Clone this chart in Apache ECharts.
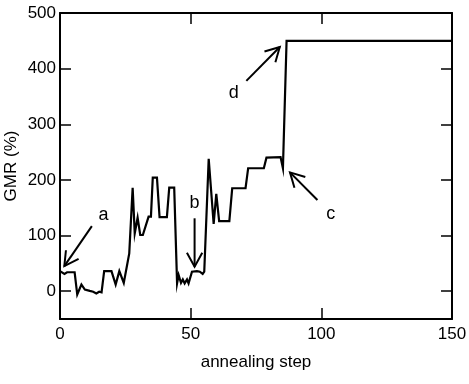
<!DOCTYPE html>
<html><head><meta charset="utf-8">
<script src="https://cdn.jsdelivr.net/npm/echarts@6/dist/echarts.min.js"></script>
<style>html,body{margin:0;padding:0;background:#fff}#c{width:469px;height:384px}</style>
</head><body><div id="c"></div>
<script>
// annealing step (x) and GMR (%) (y)
const steps = [0, 1.7, 2.7, 5.6, 6.6, 8.2, 9.5, 11.4, 12.7, 13.9, 15, 15.9, 16.9, 19.7, 21.3, 22.7, 24.4, 26.5, 27.8, 28.6, 29.7, 30.7, 31.7, 33.9, 34.8, 35.5, 37.1, 38.1, 40.9, 41.8, 43.7, 44.8, 45.4, 46.3, 47, 47.7, 48.6, 49.2, 50.5, 51.1, 52.4, 53.5, 54.6, 55.2, 56.9, 58.8, 59.8, 60.9, 64.8, 65.9, 71, 72, 78, 79, 84.4, 85.3, 86.7, 150];
const gmr = [36, 31, 34, 34, -6, 12, 3, 0.5, -1, -4, -1, -2, 36, 36, 12, 36, 15, 68, 186, 104, 132, 101, 101, 134, 134, 204, 204, 133, 133, 186, 186, 14, 29, 15, 21, 14, 21, 14, 35, 36, 36, 35, 31, 35, 238, 121, 175, 126, 126, 185, 185, 221, 221, 240, 241, 221, 450, 450];

const xTickValues = [0, 50, 100, 150];
const yTickValues = [0, 100, 200, 300, 400, 500];
const xTitle = 'annealing step';
const yTitle = 'GMR (%)';

// annotation labels
const annLetters = ['a', 'b', 'c', 'd'];
const annTextAt = [[16.6, 137], [51.5, 158], [103.6, 138.5], [66.5, 357]];
const annTail = [[12.2, 117], [51.5, 131], [98.5, 164], [71.3, 378]];
const annTip = [[1.65, 45], [51.5, 44], [88, 213.5], [84.1, 439]];

const FONT = "'Liberation Sans', Arial, Helvetica, sans-serif";
const chart = echarts.init(document.getElementById('c'), null, {renderer: 'canvas'});

function axisCommon(showLabel) {
  return {
    axisLine: {show: true, onZero: false, lineStyle: {color: '#000', width: 2}},
    axisTick: {show: true, inside: true, length: 11, lineStyle: {color: '#000', width: 1.5}},
    axisLabel: {show: showLabel, color: '#000', fontSize: 17, fontFamily: FONT},
    splitLine: {show: false}
  };
}

const xBase = axisCommon(true);
const yBase = axisCommon(true);

chart.setOption({
  animation: false,
  backgroundColor: '#fff',
  grid: {left: 60, right: 17, top: 13, bottom: 65, containLabel: false, outerBoundsMode: 'none'},
  xAxis: [
    Object.assign({}, xBase, {
      type: 'value', position: 'bottom', min: 0, max: 150, interval: 50,
      name: xTitle, nameLocation: 'middle', nameGap: 35, nameMoveOverlap: false,
      nameTextStyle: {color: '#000', fontSize: 17, fontFamily: FONT},
      axisLabel: Object.assign({}, xBase.axisLabel, {margin: 7})
    }),
    Object.assign({}, axisCommon(false), {
      type: 'value', position: 'top', min: 0, max: 150, interval: 50
    })
  ],
  yAxis: [
    Object.assign({}, yBase, {
      type: 'value', position: 'left', min: -50, max: 500,
      name: yTitle, nameLocation: 'middle', nameGap: 40, nameRotate: 90, nameMoveOverlap: false,
      nameTextStyle: {color: '#000', fontSize: 17, fontFamily: FONT},
      axisTick: Object.assign({}, yBase.axisTick, {customValues: yTickValues}),
      axisLabel: Object.assign({}, yBase.axisLabel, {customValues: yTickValues, margin: 4})
    }),
    Object.assign({}, axisCommon(false), {
      type: 'value', position: 'right', min: -50, max: 500,
      axisTick: Object.assign({}, axisCommon(false).axisTick, {customValues: yTickValues})
    })
  ],
  series: [{
    type: 'line',
    xAxisIndex: 0, yAxisIndex: 0,
    data: steps.map((s, i) => [s, gmr[i]]),
    showSymbol: false,
    lineStyle: {color: '#000', width: 2.2, join: 'miter'},
    silent: true
  }]
});

// Annotations: arrows and letters, placed in data coordinates
const graphics = [];
for (let i = 0; i < annLetters.length; i++) {
  const t = chart.convertToPixel({xAxisIndex: 0, yAxisIndex: 0}, annTail[i]);
  const p = chart.convertToPixel({xAxisIndex: 0, yAxisIndex: 0}, annTip[i]);
  const c = chart.convertToPixel({xAxisIndex: 0, yAxisIndex: 0}, annTextAt[i]);
  const ang = Math.atan2(t[1] - p[1], t[0] - p[0]);
  const L = 16, h = 0.5;
  const h1 = [p[0] + L * Math.cos(ang + h), p[1] + L * Math.sin(ang + h)];
  const h2 = [p[0] + L * Math.cos(ang - h), p[1] + L * Math.sin(ang - h)];
  graphics.push({type: 'polyline', shape: {points: [t, p]}, style: {stroke: '#000', lineWidth: 2, fill: null}, silent: true});
  graphics.push({type: 'polyline', shape: {points: [h1, p, h2]}, style: {stroke: '#000', lineWidth: 2, fill: null, lineJoin: 'miter'}, silent: true});
  graphics.push({type: 'text', x: c[0], y: c[1], style: {text: annLetters[i], fill: '#000', font: '18px ' + FONT, textAlign: 'center', textVerticalAlign: 'middle'}, silent: true});
}
chart.setOption({graphic: graphics});
</script>
</body></html>
